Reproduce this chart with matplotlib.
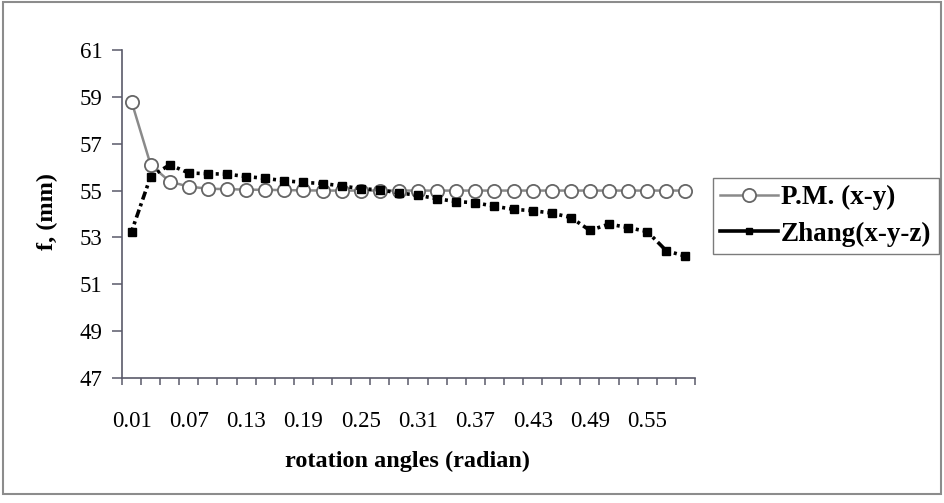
import matplotlib
matplotlib.use("Agg")
import matplotlib.pyplot as plt
from matplotlib.lines import Line2D
from matplotlib.patches import Rectangle
import numpy as np

plt.rcParams['font.family'] = ['Liberation Serif', 'DejaVu Serif']
plt.rcParams['lines.scale_dashes'] = False

# ---- data ----
angles = ["0.01", "0.03", "0.05", "0.07", "0.09", "0.11", "0.13", "0.15", "0.17", "0.19",
          "0.21", "0.23", "0.25", "0.27", "0.29", "0.31", "0.33", "0.35", "0.37", "0.39",
          "0.41", "0.43", "0.45", "0.47", "0.49", "0.51", "0.53", "0.55", "0.57", "0.59"]
pm_xy = [58.8, 56.1, 55.38, 55.17, 55.08, 55.06, 55.04, 55.03, 55.02, 55.01,
         55.0, 55.0, 55.0, 55.0, 55.0, 55.0, 55.0, 55.0, 55.0, 55.0,
         55.0, 55.0, 55.0, 55.0, 55.0, 55.0, 55.0, 55.0, 55.0, 55.0]
zhang_xyz = [53.25, 55.6, 56.1, 55.75, 55.72, 55.7, 55.6, 55.52, 55.42, 55.35,
             55.3, 55.2, 55.08, 55.03, 54.9, 54.8, 54.65, 54.53, 54.48, 54.33,
             54.2, 54.14, 54.04, 53.85, 53.3, 53.57, 53.42, 53.25, 52.43, 52.2]
y_ticks = [47, 49, 51, 53, 55, 57, 59, 61]
series_names = ["P.M. (x-y)", "Zhang(x-y-z)"]
x_title = "rotation angles (radian)"
y_title = "f, (mm)"

W, H = 945, 503
fig = plt.figure(figsize=(W / 100, H / 100), dpi=100)
fig.patch.set_facecolor('white')

# outer chart border
fig.patches.append(Rectangle((3 / W, 1 - 494 / H), (941 - 3) / W, (494 - 2) / H,
                             transform=fig.transFigure, fill=False,
                             edgecolor='#8c8c8c', linewidth=1.5))

ax = fig.add_axes([122 / W, 1 - 378 / H, (695 - 122) / W, (378 - 50) / H])
x = np.arange(len(angles))

# P.M. series
ax.plot(x, pm_xy, color='#8a8a8a', lw=1.8, marker='o', markersize=9.5,
        markerfacecolor='white', markeredgecolor='#666666', markeredgewidth=1.3,
        zorder=3)

# Zhang series: dash-dot line, pattern restarting at every category
dash = (3.0, (6.0, 2.6, 2.2, 2.9))
for i in range(len(x) - 1):
    ax.plot(x[i:i + 2], zhang_xyz[i:i + 2], color='black', lw=2.6,
            linestyle=dash, solid_capstyle='butt', dash_capstyle='butt', zorder=4)
ax.plot(x, zhang_xyz, linestyle='none', marker='s', markersize=6,
        color='black', zorder=5)

ax.set_xlim(-0.5, len(angles) - 0.5)
ax.set_ylim(47, 61)

for s in ['top', 'right']:
    ax.spines[s].set_visible(False)
for s in ['left', 'bottom']:
    ax.spines[s].set_color('#5a5a6a')
    ax.spines[s].set_linewidth(1.2)

ax.set_yticks(y_ticks)
ax.set_yticklabels([str(v) for v in y_ticks])
ax.tick_params(axis='y', direction='out', length=7, width=1.1, color='#5a5a6a',
               pad=7, labelsize=16.5)

ax.set_xticks(np.arange(-0.5, len(angles), 1.0), minor=True)
ax.set_xticks(x[::3])
ax.set_xticklabels(angles[::3])
ax.tick_params(axis='x', which='major', length=0, pad=24, labelsize=16.5)
ax.tick_params(axis='x', which='minor', direction='out', length=5, width=1.1,
               color='#5a5a6a')

fig.text(408 / W, 1 - 461 / H, x_title, ha='center', va='center',
         fontsize=17.5, fontweight='bold')
fig.text(47 / W, 1 - 212 / H, y_title, ha='center', va='center', rotation=90,
         fontsize=17.5, fontweight='bold')

handles = [
    Line2D([], [], color='#8a8a8a', lw=1.8, marker='o', markersize=9.5,
           markerfacecolor='white', markeredgecolor='#666666', markeredgewidth=1.3),
    Line2D([], [], color='black', lw=2.6, marker='s', markersize=5),
]
leg = fig.legend(handles, series_names, loc='upper left',
                 bbox_to_anchor=(713 / W, 1 - 178 / H), bbox_transform=fig.transFigure,
                 borderaxespad=0, frameon=True, fancybox=False, shadow=False,
                 handlelength=2.15, handletextpad=0.1, borderpad=0.26, labelspacing=0.42,
                 prop={'weight': 'bold', 'size': 19.5})
leg.get_frame().set_edgecolor('#5a5a5a')
leg.get_frame().set_linewidth(1.0)

fig.savefig('out.png', dpi=100, facecolor='white')
